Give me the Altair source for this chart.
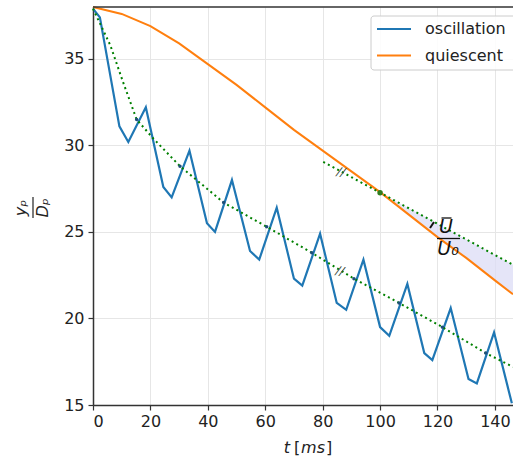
import altair as alt
import pandas as pd

# ---- data ----
osc_t = [0, 2.4, 9.2, 12.3, 18.4, 24.5, 27.4, 33.6, 39.7, 42.5, 48.4, 54.7, 57.9, 64.0,
         70.0, 72.9, 79.1, 84.9, 88.2, 94.2, 100.0, 103.2, 109.5, 115.4, 118.2, 124.6,
         130.8, 133.7, 139.7, 145.9]
osc_y = [37.9, 37.4, 31.1, 30.2, 32.2, 27.6, 27.0, 29.7, 25.5, 25.0, 28.0, 23.9, 23.4, 26.4,
         22.3, 21.9, 24.9, 20.9, 20.5, 23.4, 19.5, 19.0, 22.0, 18.0, 17.6, 20.6,
         16.5, 16.25, 19.2, 15.1]

qui_t = [0, 10, 20, 30, 40, 50, 60, 70, 80, 90, 100, 110, 120, 130, 140, 146.3]
qui_y = [38.0, 37.6, 36.9, 35.9, 34.7, 33.5, 32.2, 30.9, 29.7, 28.5, 27.3, 26.0, 24.7, 23.5, 22.2, 21.4]

mean_t = [0, 6, 10.6, 15.2, 21, 30.3, 45.5, 60.5, 76.2, 90.9, 106.6, 121.7, 136.8, 146.3]
mean_y = [37.9, 35.8, 33.6, 31.5, 30.4, 28.8, 26.7, 25.3, 23.8, 22.3, 20.9, 19.5, 18.0, 17.2]

tan_t = [80.2, 100, 110, 120, 130, 140, 146.3]
tan_y = [29.05, 27.27, 26.37, 25.47, 24.57, 23.67, 23.1]

cross_t = [15.2, 30.3, 45.5, 60.5, 76.2, 90.9, 106.6, 121.7, 136.8]
cross_y = [31.5, 28.8, 26.7, 25.3, 23.8, 22.3, 20.9, 19.5, 18.0]

shade_t = [100, 110, 120, 130, 140, 146.3]
shade_lo = [27.3, 26.0, 24.7, 23.5, 22.2, 21.4]
shade_hi = [27.27, 26.37, 25.47, 24.57, 23.67, 23.1]

x_ticks = [0, 20, 40, 60, 80, 100, 120, 140]
y_ticks = [15, 20, 25, 30, 35]

touch_t = [100]
touch_y = [27.27]

FONT = "DejaVu Sans"
W, H = 420, 398

xs = alt.Scale(domain=[0, 146.3], nice=False, zero=False)
ys = alt.Scale(domain=[15, 38], nice=False, zero=False)

osc = pd.DataFrame({"t": osc_t, "y": osc_y})
qui = pd.DataFrame({"t": qui_t, "y": qui_y})
mean = pd.DataFrame({"t": mean_t, "y": mean_y})
tan = pd.DataFrame({"t": tan_t, "y": tan_y})
cross = pd.DataFrame({"t": cross_t, "y": cross_y})
shade = pd.DataFrame({"t": shade_t, "y": shade_lo, "hi": shade_hi})
touch = pd.DataFrame({"t": touch_t, "y": touch_y})
one = pd.DataFrame({"k": [0]})

axis_common = dict(domainColor="#333333", domainWidth=1.5, tickColor="#333333",
                   tickSize=5, tickWidth=1.2, labelFont=FONT, labelFontSize=16,
                   labelColor="#222222", gridColor="#e6e6e6", gridWidth=1, title=None)

X0 = alt.X("t:Q", scale=xs, axis=alt.Axis(values=x_ticks, labelPadding=3, **axis_common))
Y0 = alt.Y("y:Q", scale=ys, axis=alt.Axis(values=y_ticks, labelPadding=4, **axis_common))
X = alt.X("t:Q", scale=xs, title=None)
Y = alt.Y("y:Q", scale=ys, title=None)

area = alt.Chart(shade).mark_area(color="#dcdcf5", opacity=0.75).encode(
    x=X0, y=Y0, y2="hi:Q")

qline = alt.Chart(qui).mark_line(color="#ff7f0e", strokeWidth=2).encode(x=X, y=Y)

oline = alt.Chart(osc).mark_line(color="#1f77b4", strokeWidth=2.2, clip=True).encode(x=X, y=Y)

mline = alt.Chart(mean).mark_line(color="#008000", strokeWidth=2, strokeDash=[2, 3.3]).encode(x=X, y=Y)

tline = alt.Chart(tan).mark_line(color="#008000", strokeWidth=2, strokeDash=[2, 3.3]).encode(x=X, y=Y)

cpts = alt.Chart(cross).mark_point(filled=True, color="#1f4f7a", size=12, opacity=1).encode(x=X, y=Y)

tpt = alt.Chart(touch).mark_point(filled=True, color="#2e7d1e", size=30, opacity=1).encode(x=X, y=Y)


def txt(s, x, y, size=16, style="normal", angle=0, color="#222222", align="center", baseline="middle"):
    return alt.Chart(one).mark_text(text=s, font=FONT, fontSize=size, fontStyle=style, angle=angle,
                                    color=color, align=align, baseline=baseline).encode(
        x=alt.value(x), y=alt.value(y))


def rule(x, y, x2, y2, color="#222222", width=1.2):
    return alt.Chart(one).mark_rule(color=color, strokeWidth=width).encode(
        x=alt.value(x), y=alt.value(y), x2=alt.value(x2), y2=alt.value(y2))


top_spine = rule(0, 0, W, 0, "#333333", 1.5)

# "//" marks
hatch1 = txt("//", 248, 165, size=12, style="italic", color="#3a4a3a", angle=10)
hatch2 = txt("//", 247, 264, size=12, style="italic", color="#3a4a3a", angle=10)

# U-bar / U0 annotation
arc = rule(337, 221, 341, 215, "#111111", 2)
u_top = txt("U", 353, 219.5, size=19, style="italic", color="#111111")
u_over = rule(348.5, 211, 358.5, 211, "#111111", 1.3)
u_bar = rule(344, 231.5, 367, 231.5, "#111111", 1.3)
u_bot = txt("U₀", 355, 242, size=19, style="italic", color="#111111")

# y label fraction
yl_num = txt("yₚ", -72, 201, size=16, style="italic", angle=270)
yl_bar = rule(-60, 190, -60, 211, "#222222", 1.2)
yl_den = txt("Dₚ", -50, 201, size=16, style="italic", angle=270)

# x label
xt1 = txt("t", 194, 441, style="italic")
xt2 = txt("[", 204, 441)
xt3 = txt("ms", 220, 441, style="italic")
xt4 = txt("]", 236, 441)

# legend
leg_box = alt.Chart(one).mark_rect(fill="white", fillOpacity=0.85, stroke="#cccccc",
                                   strokeWidth=1, cornerRadius=3).encode(
    x=alt.value(278), x2=alt.value(470), y=alt.value(9), y2=alt.value(63))
leg_l1 = rule(284, 22, 318, 22, "#1f77b4", 2.2)
leg_l2 = rule(284, 48.5, 318, 48.5, "#ff7f0e", 2.2)
leg_t1 = txt("oscillation", 332, 22, size=16, align="left")
leg_t2 = txt("quiescent", 332, 48.5, size=16, align="left")

chart = alt.layer(
    area, qline, oline, mline, tline, cpts, tpt, top_spine,
    hatch1, hatch2, arc, u_top, u_over, u_bar, u_bot,
    yl_num, yl_bar, yl_den, xt1, xt2, xt3, xt4,
    leg_box, leg_l1, leg_l2, leg_t1, leg_t2,
).properties(
    width=W, height=H,
    padding={"left": 93, "top": 7, "right": 0, "bottom": 52},
    autosize=alt.AutoSizeParams(type="none"),
    background="white",
).configure_view(stroke=None)

chart.save("out.html", embed_options={"renderer": "svg", "actions": False})
